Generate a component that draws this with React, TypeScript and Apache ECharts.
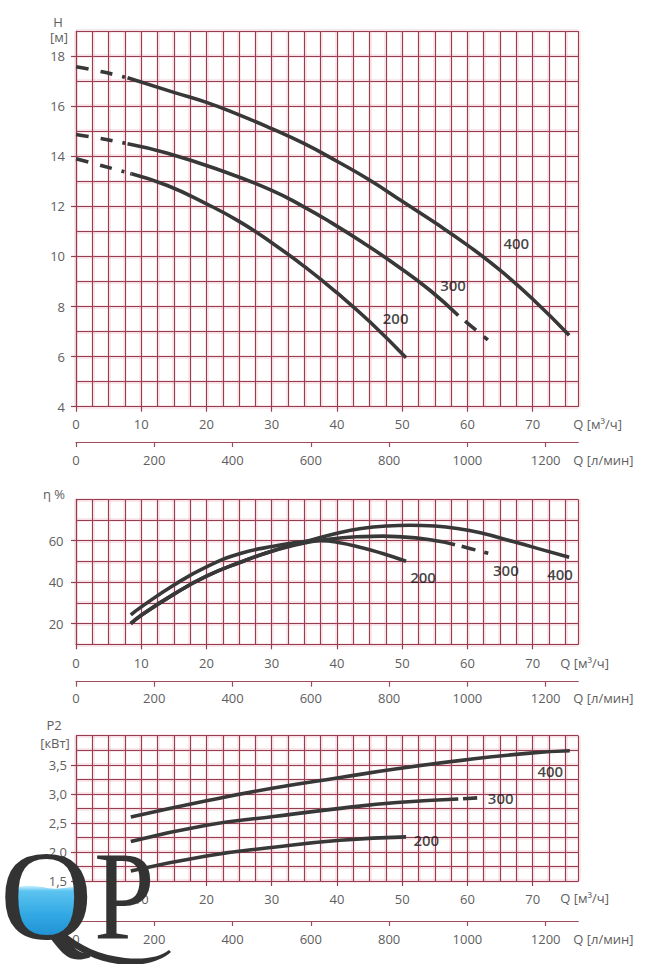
import React, { useEffect, useRef } from "react";
import * as echarts from "echarts";

// ---------- axes ----------
const Q_MAX = 77; // м³/ч
const LPM_MAX = (Q_MAX * 1000) / 60; // л/мин
const Q_TICKS = [0, 10, 20, 30, 40, 50, 60, 70];
const LPM_TICKS = [0, 200, 400, 600, 800, 1000, 1200];
const H_TICKS = [4, 6, 8, 10, 12, 14, 16, 18];
const ETA_TICKS = [20, 40, 60];
const P_TICKS = [1.5, 2.0, 2.5, 3.0, 3.5];

// ---------- H [м] ----------
const H400_DASH = [[0, 17.57], [4, 17.37], [7.9, 17.13]];
const H400 = [[7.9, 17.13], [15, 16.55], [20, 16.15], [25, 15.65], [30, 15.1], [35, 14.5], [40, 13.8], [45, 13.05], [50, 12.2], [55, 11.35], [60, 10.45], [65, 9.45], [70, 8.3], [75.6, 6.85]];
const H300_DASH = [[0, 14.87], [4, 14.7], [7.9, 14.5]];
const H300 = [[7.9, 14.5], [13.9, 14.13], [22.1, 13.44], [30, 12.64], [35, 11.97], [39, 11.37], [44, 10.55], [49.1, 9.65], [54.3, 8.64], [58.6, 7.64]];
const H300_TAIL = [[58.6, 7.64], [63.2, 6.65]];
const H200_DASH = [[0, 13.9], [4, 13.62], [8.5, 13.3]];
const H200 = [[8.5, 13.3], [14, 12.83], [20, 12.1], [25, 11.4], [30, 10.55], [35, 9.6], [40, 8.55], [45, 7.4], [50.6, 5.95]];
const H_LABELS = [["400", 67.5, 10.54], ["300", 57.8, 8.87], ["200", 49, 7.55]];

// ---------- η % ----------
const E200 = [[8.4, 24.2], [9.85, 27.7], [14.9, 38.4], [20, 47.4], [25.2, 53.8], [30.3, 57.3], [35.4, 59.7], [37.5, 60], [40, 59.3], [44, 56.5], [47, 53.8], [50.6, 50.1]];
const E300 = [[8.4, 20], [9.85, 23.7], [14.9, 34], [20, 42.9], [25.2, 49.6], [30.3, 55.2], [35.4, 59.2], [40.5, 61.3], [44, 62], [47, 62.2], [49.2, 62], [54.3, 60.5], [58.1, 58.1]];
const E300_TAIL = [[58.1, 58.1], [63.2, 54]];
const E400 = [[8.4, 20], [9.85, 23.7], [14.9, 34], [20, 42.9], [25.2, 49.6], [30.3, 55.3], [35.4, 59.8], [40.5, 64.0], [44, 66], [47.5, 67.1], [51.2, 67.5], [55, 67.1], [58.5, 65.9], [62, 63.8], [67, 59.6], [72.1, 55.1], [75.6, 52]];
const E_LABELS = [["200", 53.2, 42.6], ["300", 65.9, 45.9], ["400", 74.2, 44.1]];

// ---------- P2 [кВт] ----------
const P400 = [[8.4, 2.6], [20, 2.88], [30.3, 3.1], [40.5, 3.28], [49.2, 3.43], [59.4, 3.58], [69.6, 3.7], [75.7, 3.74]];
const P300 = [[8.4, 2.18], [20, 2.46], [30.3, 2.61], [40.5, 2.75], [49.2, 2.85], [58.6, 2.91]];
const P300_TAIL = [[58.6, 2.91], [61.5, 2.93]];
const P200 = [[8.4, 1.67], [20, 1.93], [30.3, 2.08], [40.5, 2.2], [50.6, 2.26]];
const P_LABELS = [["400", 72.7, 3.4], ["300", 65.1, 2.93], ["200", 53.7, 2.2]];

// ---------- styles ----------
const GRID_COLOR = "#953e50";
const GLOW_COLOR = "rgba(220,120,140,0.22)";
const AXIS2_COLOR = "#a04b5c";
const TEXT_COLOR = "#5e5e5e";
const CURVE = "#383838";
const FONT = "'Open Sans', 'Noto Sans', 'DejaVu Sans', sans-serif";
const SERIF = "'Liberation Serif', 'DejaVu Serif', serif";

const LEAD_DASH = [13, 12, 12, 10, 3, 6];

// logo shapes
const WATER_D =
  "M10 889 C25 884 38 886 47 888 C58 890 70 887 80 886 L80 900 C80 925 65 938 45 938 C25 938 10 925 10 900 Z";
const TAIL_D =
  "M64 932 C80 946 100 955 125 958 C145 960 160 957 169 950 L171 952 C160 962 140 967 118 964 C95 961 78 951 60 938 Z";
echarts.graphic.registerShape("qpWater", echarts.graphic.extendPath(WATER_D, {}));
echarts.graphic.registerShape("qpTail", echarts.graphic.extendPath(TAIL_D, {}));

const LABEL = { color: TEXT_COLOR, fontSize: 13, fontFamily: FONT };
const SPLIT = { color: GRID_COLOR, width: 1 };
const GLOW = { color: GLOW_COLOR, width: 3.5 };

const GRIDS = [
  { left: 76, top: 31, width: 502.3, height: 375.7 },
  { left: 76, top: 499.3, width: 502.3, height: 145 },
  { left: 76, top: 735.7, width: 502.3, height: 145.3 },
];

const X_CFG = [
  { qGap: -5, qMargin: 11, qLH: 34.6, lpmOffset: 35.3, lpmMargin: 11.5, lpmLH: 36, lpmGap: -5 },
  { qGap: -18, qMargin: 12, qLH: 36.8, lpmOffset: 37.4, lpmMargin: 10, lpmLH: 33.2, lpmGap: -5 },
  { qGap: -18, qMargin: 11, qLH: 34.6, lpmOffset: 40, lpmMargin: 11.5, lpmLH: 36, lpmGap: -5 },
];

const Y_CFG = [
  { min: 4, max: 19, interval: 1, ticks: H_TICKS, margin: 11, fmt: (v: number) => String(v) },
  { min: 10, max: 80, interval: 10, ticks: ETA_TICKS, margin: 12.5, fmt: (v: number) => String(v) },
  { min: 1.5, max: 4, interval: 0.25, ticks: P_TICKS, margin: 9, fmt: (v: number) => v.toFixed(1).replace(".", ",") },
];

const plain = (v: number) => String(Math.round(v));

function xAxesFor(g: number) {
  const c = X_CFG[g];
  const base = { type: "value", gridIndex: g, position: "bottom", min: 0, max: Q_MAX };
  return [
    {
      ...base, interval: 2.5,
      axisLine: { show: false, onZero: false }, axisTick: { show: false }, axisLabel: { show: false },
      splitLine: { show: true, lineStyle: GLOW },
    },
    {
      ...base, interval: 2.5,
      axisLine: { show: true, onZero: false, lineStyle: { color: GRID_COLOR, width: 1.2 } },
      axisTick: { show: false }, axisLabel: { show: false },
      splitLine: { show: true, lineStyle: SPLIT },
    },
    {
      ...base, interval: 10,
      axisLine: { show: false, onZero: false },
      axisTick: { show: true, length: 5, customValues: Q_TICKS, lineStyle: { color: GRID_COLOR, width: 1.2 } },
      axisLabel: { show: true, customValues: Q_TICKS, margin: c.qMargin, formatter: plain, ...LABEL },
      splitLine: { show: false },
      name: "Q [м³/ч]", nameLocation: "end", nameGap: c.qGap, nameMoveOverlap: false,
      nameTextStyle: { ...LABEL, align: "left", verticalAlign: "top", lineHeight: c.qLH },
    },
    {
      type: "value", gridIndex: g, position: "bottom", offset: c.lpmOffset, min: 0, max: LPM_MAX, interval: 200,
      axisLine: { show: true, onZero: false, lineStyle: { color: AXIS2_COLOR, width: 1.2 } },
      axisTick: { show: true, length: 5, customValues: LPM_TICKS, lineStyle: { color: AXIS2_COLOR, width: 1.2 } },
      axisLabel: { show: true, customValues: LPM_TICKS, margin: c.lpmMargin, formatter: plain, ...LABEL },
      splitLine: { show: false },
      name: "Q [л/мин]", nameLocation: "end", nameGap: c.lpmGap, nameMoveOverlap: false,
      nameTextStyle: { ...LABEL, align: "left", verticalAlign: "top", lineHeight: c.lpmLH },
    },
  ];
}

function yAxesFor(g: number) {
  const c = Y_CFG[g];
  const base = { type: "value", gridIndex: g, position: "left", min: c.min, max: c.max, interval: c.interval };
  return [
    {
      ...base,
      axisLine: { show: false, onZero: false }, axisTick: { show: false }, axisLabel: { show: false },
      splitLine: { show: true, lineStyle: GLOW },
    },
    {
      ...base,
      axisLine: { show: true, onZero: false, lineStyle: { color: GRID_COLOR, width: 1.2 } },
      axisTick: { show: false }, axisLabel: { show: false },
      splitLine: { show: true, lineStyle: SPLIT },
    },
    {
      ...base,
      axisLine: { show: false, onZero: false },
      axisTick: { show: true, length: 5, customValues: c.ticks, lineStyle: { color: GRID_COLOR, width: 1.2 } },
      axisLabel: { show: true, customValues: c.ticks, margin: c.margin, formatter: c.fmt, ...LABEL },
      splitLine: { show: false },
    },
  ];
}

function curve(data: number[][], g: number, dash?: number[]) {
  return {
    type: "line", xAxisIndex: 4 * g + 1, yAxisIndex: 3 * g + 1, data,
    smooth: 0.5, symbol: "none", showSymbol: false, silent: true, z: 5,
    lineStyle: { color: CURVE, width: 3.6, type: dash || "solid", cap: "butt" },
  };
}

function labels(items: (string | number)[][], g: number) {
  return {
    type: "scatter", xAxisIndex: 4 * g + 1, yAxisIndex: 3 * g + 1, symbolSize: 1, silent: true, z: 6,
    itemStyle: { color: "rgba(0,0,0,0)" },
    data: items.map(([t, q, v]) => ({ name: t, value: [q, v] })),
    label: {
      show: true, position: "inside", formatter: "{b}", color: "#141414",
      fontSize: 15, fontWeight: 600, fontFamily: FONT, textBorderWidth: 0, textBorderColor: "transparent",
    },
  };
}

function title(text: string, x: number, y: number) {
  return {
    type: "text", x, y, z: 50,
    style: {
      text, x: 0, y: 0, fill: TEXT_COLOR, fontSize: 13, fontFamily: FONT,
      align: "center", textAlign: "center", verticalAlign: "middle", textVerticalAlign: "middle",
    },
  };
}

const option = {
  animation: false,
  backgroundColor: "#ffffff",
  grid: GRIDS.map((g) => ({ ...g, containLabel: false, outerBoundsMode: "none" })),
  xAxis: [...xAxesFor(0), ...xAxesFor(1), ...xAxesFor(2)],
  yAxis: [...yAxesFor(0), ...yAxesFor(1), ...yAxesFor(2)],
  series: [
    curve(H400_DASH, 0, LEAD_DASH),
    curve(H400, 0),
    curve(H300_DASH, 0, LEAD_DASH),
    curve(H300, 0),
    curve(H300_TAIL, 0, [0, 9, 14, 10, 5, 30]),
    curve(H200_DASH, 0, LEAD_DASH),
    curve(H200, 0),
    labels(H_LABELS, 0),
    curve(E200, 1),
    curve(E300, 1),
    curve(E300_TAIL, 1, [0, 7, 14, 9, 4.5, 30]),
    curve(E400, 1),
    labels(E_LABELS, 1),
    curve(P400, 2),
    curve(P300, 2),
    curve(P300_TAIL, 2, [0, 5, 14, 30]),
    curve(P200, 2),
    labels(P_LABELS, 2),
  ],
  graphic: [
    title("H", 58, 22),
    title("[м]", 59, 37),
    title("η %", 54, 494),
    title("P2", 54, 725),
    title("[кВт]", 55, 743),
    {
      type: "qpWater", x: 0, y: 0, z: 100, silent: true,
      style: {
        fill: {
          type: "linear", x: 0, y: 0, x2: 0, y2: 1,
          colorStops: [
            { offset: 0, color: "#c8f1fd" },
            { offset: 0.1, color: "#5cc3f0" },
            { offset: 0.55, color: "#32a9e4" },
            { offset: 1, color: "#1f8fd3" },
          ],
        },
      },
    },
    { type: "qpTail", x: 0, y: 0, z: 101, silent: true, style: { fill: "#333333" } },
    {
      type: "text", x: 0, y: 896, z: 101, silent: true,
      style: {
        text: "Q", x: 0, y: 0, fill: "#333333", fontSize: 128, fontFamily: SERIF,
        align: "left", textAlign: "left", verticalAlign: "middle", textVerticalAlign: "middle",
      },
    },
    {
      type: "text", x: 94, y: 896, scaleX: 0.85, z: 101, silent: true,
      style: {
        text: "P", x: 0, y: 0, fill: "#333333", fontSize: 128, fontFamily: SERIF,
        align: "left", textAlign: "left", verticalAlign: "middle", textVerticalAlign: "middle",
      },
    },
  ],
};

export default function App() {
  const ref = useRef<HTMLDivElement>(null);
  useEffect(() => {
    if (!ref.current) return;
    const chart = echarts.init(ref.current, null, { renderer: "svg", width: 660, height: 964 });
    chart.setOption(option as any);
    return () => chart.dispose();
  }, []);
  return (
    <div
      ref={ref}
      style={{ position: "fixed", left: 0, top: 0, width: 660, height: 964, background: "#fff" }}
    />
  );
}
